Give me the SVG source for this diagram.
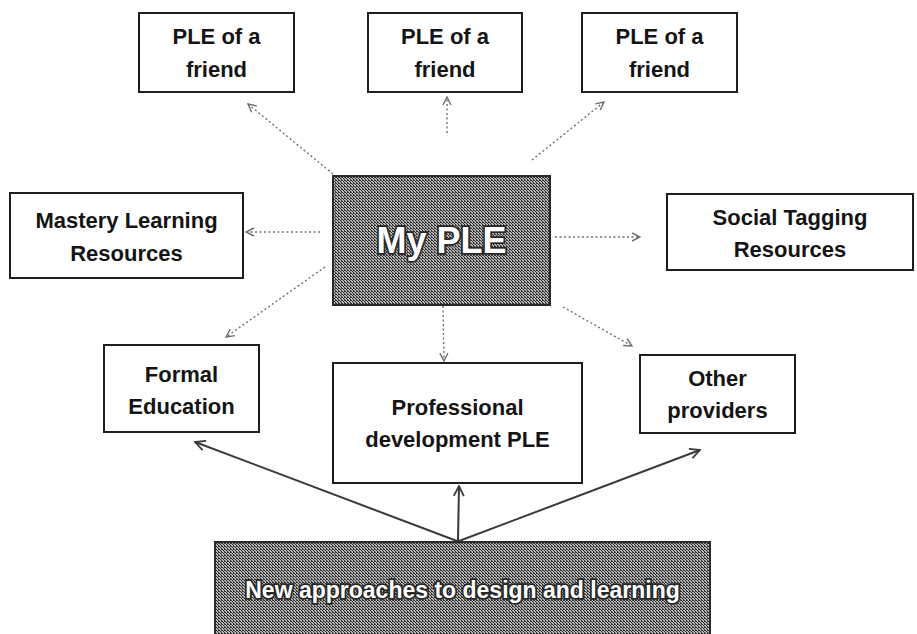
<svg xmlns="http://www.w3.org/2000/svg" width="917" height="634" viewBox="0 0 917 634">
  <defs>
    <style>
      .box { fill: #ffffff; stroke: #1e1e1e; stroke-width: 2; }
      .dark { fill: url(#halftone); stroke: #2a2a2a; stroke-width: 2; }
      .lbl { font-family: "Liberation Sans", Arial, sans-serif; font-weight: bold; font-size: 22px; fill: #141414; text-anchor: middle; }
      .inv { font-family: "Liberation Sans", Arial, sans-serif; font-weight: bold; fill: #ffffff; stroke: #262626; stroke-width: 3.5; paint-order: stroke; text-anchor: middle; }
      .dot { fill: none; stroke: #707070; stroke-width: 1.4; stroke-dasharray: 2 2.5; marker-end: url(#openGray); }
      .solid { fill: none; stroke: #3a3a3a; stroke-width: 2; marker-end: url(#openDark); }
    </style>
    <!-- grainy mid-grey fill for the two emphasised boxes -->
    <pattern id="halftone" width="3" height="3" patternUnits="userSpaceOnUse">
      <rect width="3" height="3" fill="#b4b4b4"/>
      <rect x="0" y="0" width="1" height="1" fill="#2e2e2e"/>
      <rect x="1" y="1" width="1" height="1" fill="#2e2e2e"/>
      <rect x="2" y="2" width="1" height="1" fill="#2e2e2e"/>
      <rect x="2" y="0" width="1" height="1" fill="#3c3c3c"/>
    </pattern>
    <marker id="openGray" viewBox="0 0 10 10" refX="9" refY="5" markerWidth="10" markerHeight="10" markerUnits="userSpaceOnUse" orient="auto">
      <path d="M1,1 L9,5 L1,9" fill="none" stroke="#707070" stroke-width="1.4"/>
    </marker>
    <marker id="openDark" viewBox="0 0 12 12" refX="11" refY="6" markerWidth="12" markerHeight="12" markerUnits="userSpaceOnUse" orient="auto">
      <path d="M1,1 L11,6 L1,11" fill="none" stroke="#3a3a3a" stroke-width="1.8"/>
    </marker>
  </defs>

  <rect width="917" height="634" fill="#ffffff"/>

  <!-- connectors -->
  <g id="connectors">
    <line class="dot" x1="333" y1="174" x2="248" y2="104"/>
    <line class="dot" x1="447" y1="133" x2="447" y2="97"/>
    <line class="dot" x1="532" y1="160" x2="604" y2="102"/>
    <line class="dot" x1="320" y1="232" x2="246" y2="232"/>
    <line class="dot" x1="555" y1="237" x2="640" y2="237"/>
    <line class="dot" x1="325" y1="267" x2="226" y2="337"/>
    <line class="dot" x1="443" y1="306" x2="444" y2="361"/>
    <line class="dot" x1="563" y1="307" x2="632" y2="346"/>
    <line class="solid" x1="457" y1="541" x2="195" y2="442"/>
    <line class="solid" x1="458" y1="541" x2="459" y2="486"/>
    <line class="solid" x1="459" y1="541" x2="700" y2="450"/>
  </g>

  <g id="friend1">
    <rect class="box" x="139" y="13" width="155" height="79"/>
    <text class="lbl" x="216.5" y="44">PLE of a</text>
    <text class="lbl" x="216.5" y="77">friend</text>
  </g>
  <g id="friend2">
    <rect class="box" x="368" y="13" width="154" height="79"/>
    <text class="lbl" x="445" y="44">PLE of a</text>
    <text class="lbl" x="445" y="77">friend</text>
  </g>
  <g id="friend3">
    <rect class="box" x="582" y="13" width="155" height="79"/>
    <text class="lbl" x="659.5" y="44">PLE of a</text>
    <text class="lbl" x="659.5" y="77">friend</text>
  </g>

  <g id="mastery">
    <rect class="box" x="10" y="193" width="233" height="85"/>
    <text class="lbl" x="126.5" y="228">Mastery Learning</text>
    <text class="lbl" x="126.5" y="261">Resources</text>
  </g>

  <g id="myple">
    <rect class="dark" x="333" y="176" width="217" height="129"/>
    <text class="inv" x="441.5" y="253" font-size="36">My PLE</text>
  </g>

  <g id="social">
    <rect class="box" x="667" y="194" width="246" height="76"/>
    <text class="lbl" x="790" y="225">Social Tagging</text>
    <text class="lbl" x="790" y="257">Resources</text>
  </g>

  <g id="formal">
    <rect class="box" x="104" y="345" width="155" height="87"/>
    <text class="lbl" x="181.5" y="382">Formal</text>
    <text class="lbl" x="181.5" y="414">Education</text>
  </g>

  <g id="professional">
    <rect class="box" x="333" y="363" width="249" height="120"/>
    <text class="lbl" x="457.5" y="415">Professional</text>
    <text class="lbl" x="457.5" y="447">development PLE</text>
  </g>

  <g id="other">
    <rect class="box" x="640" y="355" width="155" height="78"/>
    <text class="lbl" x="717.5" y="386">Other</text>
    <text class="lbl" x="717.5" y="418">providers</text>
  </g>

  <g id="approaches">
    <rect class="dark" x="215" y="542" width="495" height="100"/>
    <text class="inv" x="462.5" y="598" font-size="23">New approaches to design and learning</text>
  </g>
</svg>
